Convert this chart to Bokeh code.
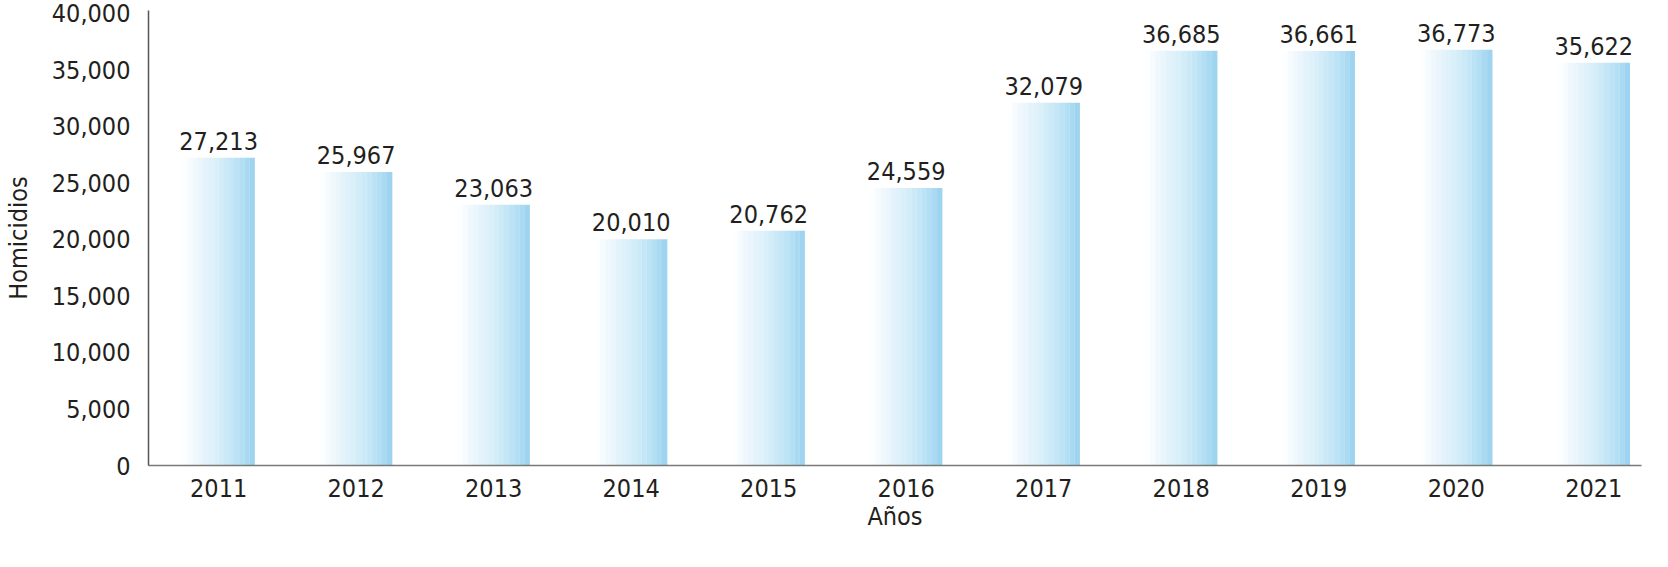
from bokeh.plotting import figure
from bokeh.models import ColumnDataSource, Range1d, FixedTicker, NumeralTickFormatter, Title
from bokeh.core.properties import value
from bokeh.embed import file_html
from bokeh.resources import INLINE

years = ["2011", "2012", "2013", "2014", "2015", "2016", "2017", "2018", "2019", "2020", "2021"]
homicidios = [27213, 25967, 23063, 20010, 20762, 24559, 32079, 36685, 36661, 36773, 35622]
y_ticks = [0, 5000, 10000, 15000, 20000, 25000, 30000, 35000, 40000]

FONT = "'Liberation Sans Narrow', 'DejaVu Sans Condensed', 'Arial Narrow', sans-serif"
TXT = "#231f20"
FS = "25px"

pos = list(range(len(years)))
labels = [f"{v:,}" for v in homicidios]
src = ColumnDataSource(dict(x=pos, y=homicidios, lab=labels))

p = figure(width=1652, height=551, output_backend="svg", toolbar_location=None,
           x_range=Range1d(-0.51, 10.347), y_range=Range1d(0, 40250),
           min_border_left=139, min_border_right=11, min_border_top=10, min_border_bottom=86)
p.outline_line_color = None
p.grid.visible = False
p.background_fill_color = "white"
p.border_fill_color = "white"

# gradient bars as vertical strips (white -> light blue)
stops = [(0.0, (252, 254, 255)), (0.2, (236, 246, 252)), (0.45, (218, 239, 249)),
         (0.7, (196, 230, 246)), (0.9, (172, 220, 243)), (1.0, (158, 212, 239))]

def interp(t):
    for (t0, c0), (t1, c1) in zip(stops[:-1], stops[1:]):
        if t0 <= t <= t1:
            f = (t - t0) / (t1 - t0)
            return "#%02x%02x%02x" % tuple(int(round(a + (b - a) * f)) for a, b in zip(c0, c1))
    return "#%02x%02x%02x" % stops[-1][1]

bar_w = 0.525
n = 14
sw = bar_w / n
for k in range(n):
    off = -bar_w / 2 + sw * (k + 0.5)
    p.vbar(x=[xx + off for xx in pos], top=homicidios, width=sw * 1.04, bottom=0,
           fill_color=interp(k / (n - 1)), line_color=None)

p.text(x="x", y="y", text="lab", source=src, text_align="center", text_baseline="bottom",
       y_offset=-8, text_font=value(FONT), text_font_size=FS, text_color=TXT)

# axes
p.xaxis.ticker = FixedTicker(ticks=pos)
p.xaxis.major_label_overrides = {i: y for i, y in enumerate(years)}
p.xaxis.major_tick_line_color = None
p.xaxis.minor_tick_line_color = None
p.xaxis.axis_line_color = "#7a7a7a"
p.xaxis.axis_line_width = 1.5
p.xaxis.major_label_standoff = 7
p.xaxis.major_label_text_font = FONT
p.xaxis.major_label_text_font_size = FS
p.xaxis.major_label_text_color = TXT

p.add_layout(Title(text="Años", align="center", vertical_align="bottom", standoff=0,
                   text_font=FONT, text_font_size=FS, text_font_style="normal",
                   text_color=TXT), "below")

p.yaxis.ticker = FixedTicker(ticks=y_ticks)
p.yaxis.formatter = NumeralTickFormatter(format="0,0")
p.yaxis.major_tick_line_color = None
p.yaxis.minor_tick_line_color = None
p.yaxis.axis_line_color = "#555555"
p.yaxis.axis_line_width = 1.5
p.yaxis.major_label_standoff = 12
p.yaxis.major_label_text_font = FONT
p.yaxis.major_label_text_font_size = FS
p.yaxis.major_label_text_color = TXT
p.yaxis.axis_label = "Homicidios"
p.yaxis.axis_label_standoff = 16
p.yaxis.axis_label_text_font = FONT
p.yaxis.axis_label_text_font_size = FS
p.yaxis.axis_label_text_font_style = "normal"
p.yaxis.axis_label_text_color = TXT

open("out.html", "w").write(file_html(p, INLINE))
